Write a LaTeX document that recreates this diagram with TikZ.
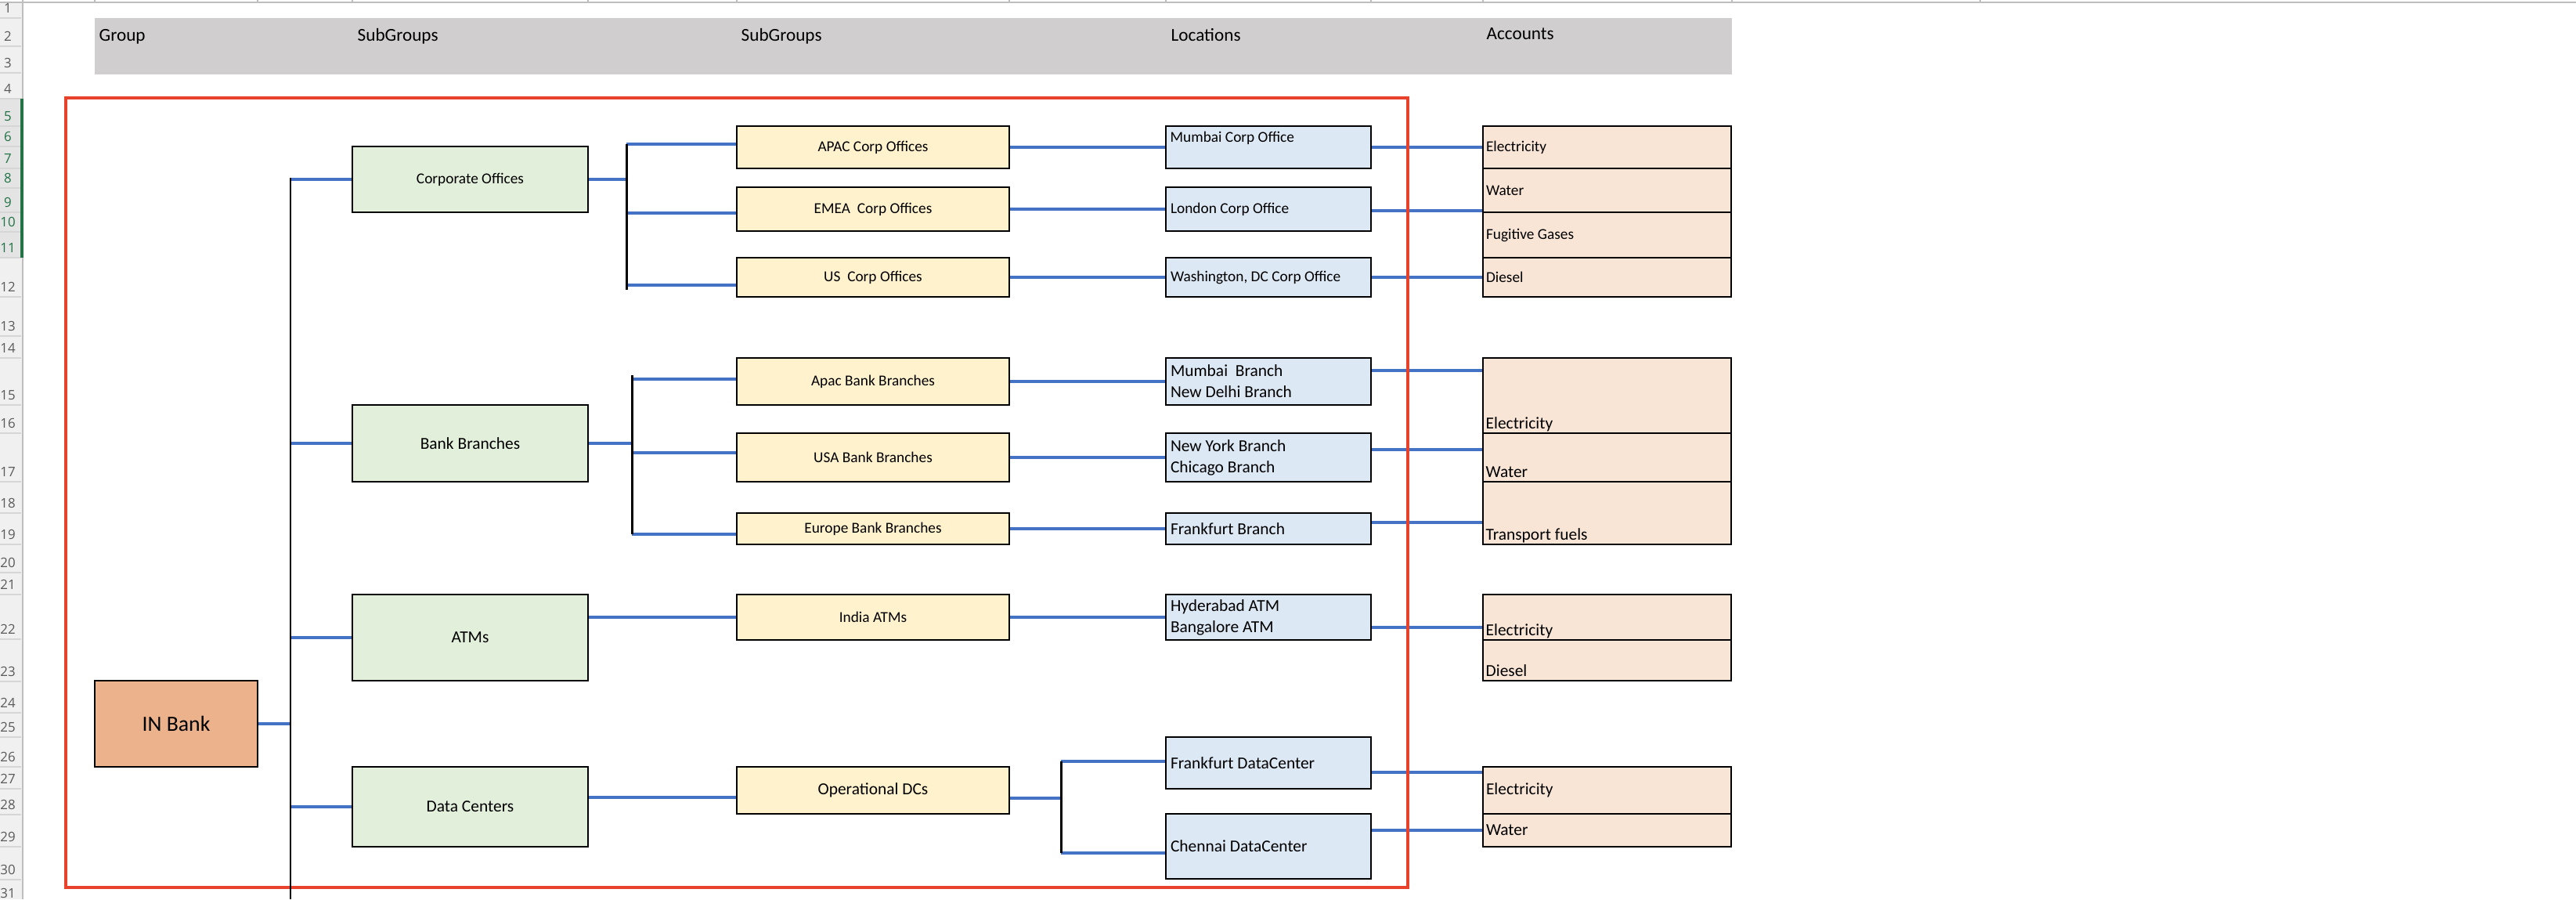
\documentclass[tikz,border=0pt]{standalone}
\usepackage{fontspec}
\setmainfont{Carlito}
\newfontfamily\rowfont{Open Sans}
\definecolor{HeadGray}{RGB}{208,206,206}
\definecolor{FrameRed}{RGB}{233,66,44}
\definecolor{LinkBlue}{RGB}{68,114,196}
\definecolor{GrpOrange}{RGB}{236,178,140}
\definecolor{SubGreen}{RGB}{226,239,218}
\definecolor{SetYellow}{RGB}{255,242,204}
\definecolor{LocBlue}{RGB}{221,232,245}
\definecolor{AccPeach}{RGB}{249,229,214}
\definecolor{RowGray}{RGB}{240,240,240}
\definecolor{RowSel}{RGB}{228,228,228}
\definecolor{RowLine}{RGB}{214,214,214}
\definecolor{RowText}{RGB}{90,90,90}
\definecolor{SelGreen}{RGB}{33,115,70}
\definecolor{TopGray}{RGB}{190,190,190}
\newcommand{\smallcell}{\fontsize{5.5}{6.6}\selectfont}
\newcommand{\cellfont}{\fontsize{6.1}{7.7}\selectfont}
\newcommand{\headfont}{\fontsize{6.6}{8}\selectfont}

\begin{document}
\begin{tikzpicture}[
    box/.style={draw=black, line width=0.6pt, inner sep=0pt},
    grpbox/.style={box, fill=GrpOrange, font=\fontsize{7.9}{9.5}\selectfont},
    subbox/.style={box, fill=SubGreen, minimum width=3.01cm, font=\cellfont},
    setbox/.style={box, fill=SetYellow, minimum width=3.48cm, font=\smallcell},
    locbox/.style={box, fill=LocBlue, minimum width=2.62cm, text width=2.50cm, align=flush left, inner xsep=0.06cm, font=\cellfont},
    accbox/.style={box, fill=AccPeach, minimum width=3.17cm, text width=3.09cm, align=flush left, inner xsep=0.04cm, font=\cellfont},
    lowtext/.style={anchor=base west, xshift=0.04cm, yshift=0.07cm, inner sep=0pt, font=\cellfont},
    toptext/.style={anchor=north west, xshift=0.06cm, yshift=-0.07cm, inner sep=0pt, font=\smallcell},
    headtext/.style={anchor=base west, inner sep=0pt, font=\headfont},
    rownum/.style={anchor=base, inner sep=0pt, font=\rowfont\fontsize{4.8}{5}\selectfont, text=RowText},
    link/.style={draw=LinkBlue, line width=1.1pt},
    spine/.style={draw=black, line width=0.85pt}
  ]
  \useasboundingbox (0,0) rectangle (32.90,-11.48);

  % --- sheet frame: top rule and row headers ---
  \draw[TopGray, line width=0.6pt] (0,-0.03) -- (32.90,-0.03);
  \foreach \x in {0.29,1.21,3.29,4.50,7.51,9.41,12.89,14.89,17.51,18.94,22.12,25.29}
    \draw[TopGray, line width=0.3pt] (\x,0) -- (\x,-0.03);
  \fill[RowGray] (0,-0.04) rectangle (0.29,-11.48);
  \fill[RowSel] (0,-1.26) rectangle (0.29,-3.29);
  \foreach \b in {0.23,0.59,0.93,1.26,1.61,1.87,2.15,2.40,2.71,2.96,3.29,3.79,4.29,4.57,5.17,5.53,6.15,6.55,6.95,7.31,7.59,8.16,8.70,9.10,9.41,9.79,10.07,10.40,10.81,11.23}
    \draw[RowLine, line width=0.4pt] (0,-\b) -- (0.27,-\b);
  \draw[TopGray, line width=0.5pt] (0.29,-0.04) -- (0.29,-11.48);
  \fill[SelGreen] (0.26,-1.26) rectangle (0.30,-3.29);
  \foreach \n/\b in {1/0.16, 2/0.52, 3/0.86, 4/1.19, 12/3.72, 13/4.22, 14/4.50, 15/5.10, 16/5.46, 17/6.08, 18/6.48, 19/6.88, 20/7.24, 21/7.52, 22/8.09, 23/8.63, 24/9.03, 25/9.34, 26/9.72, 27/10.00, 28/10.33, 29/10.74, 30/11.16, 31/11.46}
    \node[rownum] (row\n) at (0.10,-\b) {\n};
  \foreach \n/\b in {5/1.54, 6/1.80, 7/2.08, 8/2.33, 9/2.64, 10/2.89, 11/3.22}
    \node[rownum, text=SelGreen] (row\n) at (0.10,-\b) {\n};

  % --- column header band ---
  \node[fill=HeadGray, inner sep=0pt, minimum width=20.91cm, minimum height=0.72cm, anchor=north west] (head) at (1.20,-0.22) {};
  \node[headtext] (hGroup) at (1.26,-0.52) {Group};
  \node[headtext] (hSubA) at (4.56,-0.52) {SubGroups};
  \node[headtext] (hSubB) at (9.46,-0.52) {SubGroups};
  \node[headtext] (hLoc) at (14.95,-0.52) {Locations};
  \node[headtext] (hAcc) at (18.98,-0.50) {Accounts};

  % --- group and first subgroups ---
  \node[grpbox, minimum width=2.08cm, minimum height=1.10cm] (inbank) at (2.25,-9.24) {IN Bank};
  \node[subbox, minimum height=0.84cm, font=\smallcell] (corp) at (6.005,-2.29) {Corporate Offices};
  \node[subbox, minimum height=0.98cm] (bank) at (6.005,-5.66) {Bank Branches};
  \node[subbox, minimum height=1.10cm] (atms) at (6.005,-8.14) {ATMs};
  \node[subbox, minimum height=1.02cm] (dcs) at (6.005,-10.30) {Data Centers};

  % --- second subgroups ---
  \node[setbox, minimum height=0.54cm] (apacco) at (11.15,-1.88) {APAC Corp Offices};
  \node[setbox, minimum height=0.56cm] (emeaco) at (11.15,-2.67) {EMEA\ \ Corp Offices};
  \node[setbox, minimum height=0.50cm] (usco) at (11.15,-3.54) {US\ \ Corp Offices};
  \node[setbox, minimum height=0.60cm] (apacbb) at (11.15,-4.87) {Apac Bank Branches};
  \node[setbox, minimum height=0.62cm] (usabb) at (11.15,-5.84) {USA Bank Branches};
  \node[setbox, minimum height=0.40cm] (eubb) at (11.15,-6.75) {Europe Bank Branches};
  \node[setbox, minimum height=0.58cm] (indiaatm) at (11.15,-7.88) {India ATMs};
  \node[setbox, minimum height=0.60cm, font=\cellfont] (opsdc) at (11.15,-10.09) {Operational DCs};

  % --- locations ---
  \node[locbox, minimum height=0.54cm, label={[toptext]north west:Mumbai Corp Office}] (mumco) at (16.20,-1.88) {};
  \node[locbox, minimum height=0.56cm, font=\smallcell] (lonco) at (16.20,-2.67) {London Corp Office};
  \node[locbox, minimum height=0.50cm, font=\smallcell] (wasco) at (16.20,-3.54) {Washington, DC Corp Office};
  \node[locbox, minimum height=0.60cm] (mumbr) at (16.20,-4.87) {Mumbai\ \ Branch\\New Delhi Branch};
  \node[locbox, minimum height=0.62cm] (nybr) at (16.20,-5.84) {New York Branch\\Chicago Branch};
  \node[locbox, minimum height=0.40cm] (frabr) at (16.20,-6.75) {Frankfurt Branch};
  \node[locbox, minimum height=0.58cm] (hydatm) at (16.20,-7.88) {Hyderabad ATM\\Bangalore ATM};
  \node[locbox, minimum height=0.66cm] (fradc) at (16.20,-9.74) {Frankfurt DataCenter};
  \node[locbox, minimum height=0.83cm] (chedc) at (16.20,-10.805) {Chennai DataCenter};

  % --- accounts ---
  \node[accbox, minimum height=0.54cm, font=\smallcell] (acc1a) at (20.525,-1.88) {Electricity};
  \node[accbox, minimum height=0.56cm, font=\smallcell] (acc1b) at (20.525,-2.43) {Water};
  \node[accbox, minimum height=0.58cm, font=\smallcell] (acc1c) at (20.525,-3.00) {Fugitive Gases};
  \node[accbox, minimum height=0.50cm, font=\smallcell] (acc1d) at (20.525,-3.54) {Diesel};
  \node[accbox, minimum height=0.96cm, label={[lowtext]south west:Electricity}] (acc2a) at (20.525,-5.05) {};
  \node[accbox, minimum height=0.62cm, label={[lowtext]south west:Water}] (acc2b) at (20.525,-5.84) {};
  \node[accbox, minimum height=0.80cm, label={[lowtext]south west:Transport fuels}] (acc2c) at (20.525,-6.55) {};
  \node[accbox, minimum height=0.58cm, label={[lowtext]south west:Electricity}] (acc3a) at (20.525,-7.88) {};
  \node[accbox, minimum height=0.52cm, label={[lowtext]south west:Diesel}] (acc3b) at (20.525,-8.43) {};
  \node[accbox, minimum height=0.60cm] (acc4a) at (20.525,-10.09) {Electricity};
  \node[accbox, minimum height=0.42cm] (acc4b) at (20.525,-10.60) {Water};

  % --- spine and brackets ---
  \coordinate (trunkTop) at (3.71,-2.27);
  \coordinate (trunkBot) at (3.71,-11.48);
  \coordinate (cbTop) at (8.00,-1.84);
  \coordinate (cbMid) at (8.00,-2.72);
  \coordinate (cbUs) at (8.00,-3.64);
  \coordinate (cbBot) at (8.00,-3.70);
  \coordinate (bbTop) at (8.07,-4.79);
  \coordinate (bb1) at (8.07,-4.84);
  \coordinate (bb2) at (8.07,-5.78);
  \coordinate (bbBot) at (8.07,-6.82);
  \coordinate (dcTop) at (13.55,-9.72);
  \coordinate (dcBot) at (13.55,-10.89);
  \coordinate (opsIn) at ([yshift=-0.09cm]opsdc.west);
  \coordinate (opsOut) at ([yshift=-0.10cm]opsdc.east);

  % Links from the group
  \draw[link] (inbank.east) -- (inbank.east -| trunkTop);
  \draw[link] (trunkTop |- corp.west) -- (corp.west);
  \draw[link] (trunkTop |- bank.west) -- (bank.west);
  \draw[link] (trunkTop |- atms.west) -- (atms.west);
  \draw[link] (trunkTop |- dcs.west) -- (dcs.west);

  % Links to second subgroups
  \draw[link] (corp.east) -- (corp.east -| cbTop);
  \draw[link] (cbTop) -- (cbTop -| apacco.west);
  \draw[link] (cbMid) -- (cbMid -| emeaco.west);
  \draw[link] (cbUs) -- (cbUs -| usco.west);
  \draw[link] (bank.east) -- (bank.east -| bbTop);
  \draw[link] (bb1) -- (bb1 -| apacbb.west);
  \draw[link] (bb2) -- (bb2 -| usabb.west);
  \draw[link] (bbBot) -- (bbBot -| eubb.west);
  \draw[link] (atms.east |- indiaatm.west) -- (indiaatm.west);
  \draw[link] (dcs.east |- opsIn) -- (opsIn);

  % Links to locations
  \draw[link] (apacco.east) -- (mumco.west);
  \draw[link] (emeaco.east) -- (lonco.west);
  \draw[link] (usco.east) -- (wasco.west);
  \draw[link] (apacbb.east) -- (mumbr.west);
  \draw[link] (usabb.east) -- (nybr.west);
  \draw[link] (eubb.east) -- (frabr.west);
  \draw[link] (indiaatm.east) -- (hydatm.west);
  \draw[link] (opsOut) -- (opsOut -| dcTop);
  \draw[link] (dcTop) -- (dcTop -| fradc.west);
  \draw[link] (dcBot) -- (dcBot -| chedc.west);

  % Links to accounts
  \draw[link] (mumco.east) -- (acc1a.west);
  \draw[link] ([yshift=-0.02cm]lonco.east) -- ([yshift=-0.02cm]lonco.east -| acc1b.west);
  \draw[link] (wasco.east) -- (acc1d.west);
  \draw[link] ([yshift=0.14cm]mumbr.east) -- ([yshift=0.14cm]mumbr.east -| acc2a.west);
  \draw[link] ([yshift=0.10cm]nybr.east) -- ([yshift=0.10cm]nybr.east -| acc2b.west);
  \draw[link] ([yshift=0.08cm]frabr.east) -- ([yshift=0.08cm]frabr.east -| acc2c.west);
  \draw[link] ([yshift=-0.13cm]hydatm.east) -- ([yshift=-0.13cm]hydatm.east -| acc3a.west);
  \draw[link] ([yshift=-0.12cm]fradc.east) -- ([yshift=-0.12cm]fradc.east -| acc4a.west);
  \draw[link] (chedc.east |- acc4b.west) -- (acc4b.west);

  % --- red selection frame ---
  \draw[draw=FrameRed, line width=0.95pt] (0.84,-1.25) rectangle (17.98,-11.33);

  % Black spines
  \draw[spine] (trunkTop) -- (trunkBot);
  \draw[spine] (cbTop) -- (cbBot);
  \draw[spine] (bbTop) -- (bbBot);
  \draw[spine] (dcTop) -- (dcBot);
\end{tikzpicture}
\end{document}
